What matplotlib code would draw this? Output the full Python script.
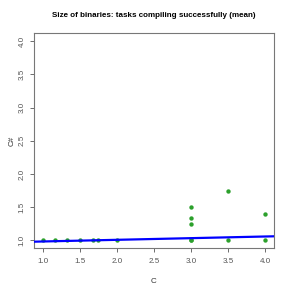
import matplotlib
matplotlib.use("Agg")
import matplotlib.pyplot as plt
import numpy as np

plt.rcParams['font.family'] = ['Liberation Sans', 'DejaVu Sans']

# data
c_vals = [1.0, 1.17, 1.33, 1.5, 1.67, 1.75, 2.0, 3.0, 3.0, 3.0, 3.0, 3.0, 3.5, 3.5, 4.0, 4.0]
cs_vals = [1.0, 1.0, 1.0, 1.0, 1.0, 1.0, 1.0, 1.0, 1.0, 1.25, 1.33, 1.5, 1.0, 1.75, 1.0, 1.4]
fit_intercept = 0.958
fit_slope = 0.025
ticks = [1.0, 1.5, 2.0, 2.5, 3.0, 3.5, 4.0]

fig = plt.figure(figsize=(2.91, 2.91), dpi=100)
ax = fig.add_axes([0.1168, 0.1467, 0.8247, 0.7389])

ax.scatter(c_vals, cs_vals, s=10, color='#2ca02c', zorder=3, linewidths=0)
xl = np.array([0.88, 4.12])
ax.plot(xl, fit_intercept + fit_slope * xl, color='#0000ff', linewidth=1.6, zorder=4)

ax.set_xlim(0.88, 4.12)
ax.set_ylim(0.88, 4.12)
ax.set_xticks(ticks)
ax.set_yticks(ticks)
ax.set_xticklabels([f'{t:.1f}' for t in ticks])
ax.set_yticklabels([f'{t:.1f}' for t in ticks], rotation=90, va='center')
ax.tick_params(labelsize=5.8, colors='#555555', length=3, width=0.6)
ax.tick_params(axis='x', pad=4)
ax.tick_params(axis='y', pad=3)
for s in ax.spines.values():
    s.set_color('#777777')
    s.set_linewidth(0.8)

ax.set_xlabel('C', fontsize=5.8, color='#333333', labelpad=9)
ax.set_ylabel('C#', fontsize=5.8, color='#333333', labelpad=2)
ax.set_title('Size of binaries: tasks compiling successfully (mean)', fontsize=5.8,
             fontweight='bold', pad=12)

fig.savefig('out.png', dpi=100)
